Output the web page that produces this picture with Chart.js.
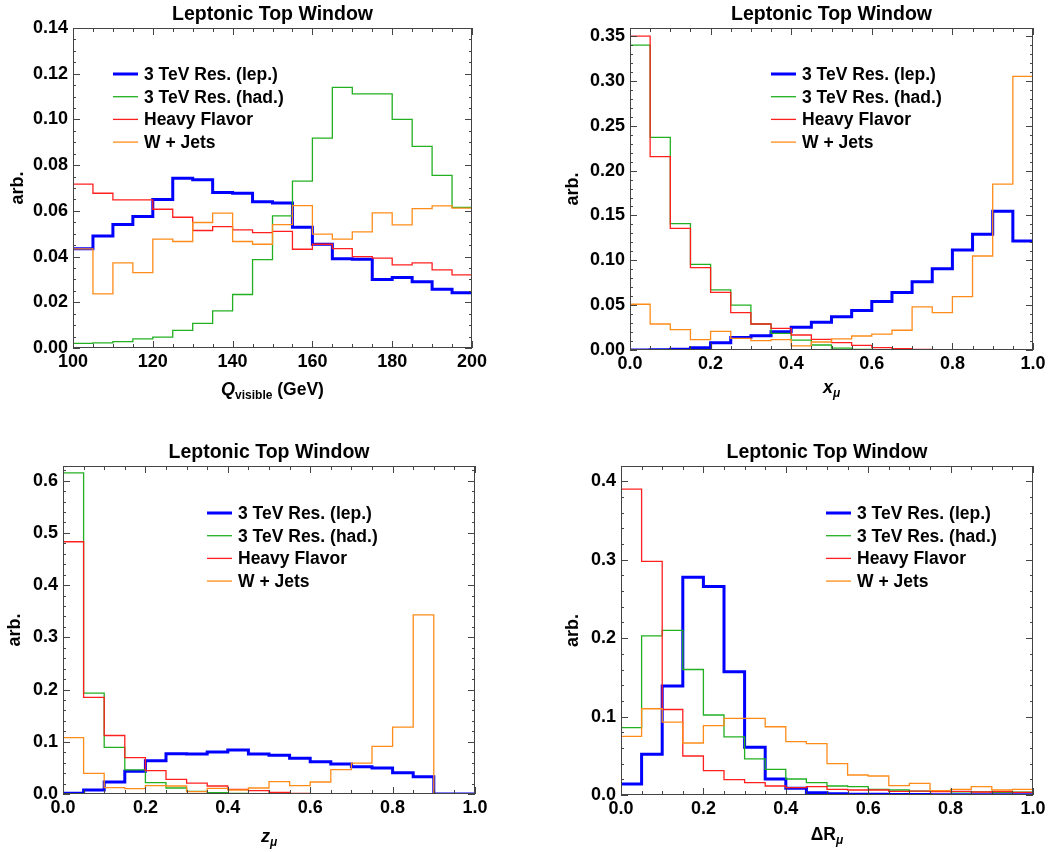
<!DOCTYPE html>
<html>
<head>
<meta charset="utf-8">
<title>Leptonic Top Window</title>
<script src="https://cdn.jsdelivr.net/npm/chart.js@4.4.0/dist/chart.umd.min.js"></script>
<style>
  html, body { margin: 0; padding: 0; background: #fff; }
  #wrap { position: relative; width: 1050px; height: 852px; }
  #wrap canvas { position: absolute; }
</style>
</head>
<body>
<div id="wrap">
  <canvas id="cQ" width="525" height="426" style="left:0;top:0"></canvas>
  <canvas id="cX" width="525" height="426" style="left:525px;top:0"></canvas>
  <canvas id="cZ" width="525" height="426" style="left:0;top:426px"></canvas>
  <canvas id="cR" width="525" height="426" style="left:525px;top:426px"></canvas>
</div>
<script>
// series names (legend order)
var seriesNames = ["3 TeV Res. (lep.)", "3 TeV Res. (had.)", "Heavy Flavor", "W + Jets"];

// bin edges
var qBins = [100, 105, 110, 115, 120, 125, 130, 135, 140, 145, 150, 155, 160, 165, 170, 175, 180, 185, 190, 195, 200];
var unitBins = [0, 0.05, 0.1, 0.15, 0.2, 0.25, 0.3, 0.35, 0.4, 0.45, 0.5, 0.55, 0.6, 0.65, 0.7, 0.75, 0.8, 0.85, 0.9, 0.95, 1.0];

// Q visible
var qLep = [0.0434, 0.049, 0.054, 0.0575, 0.065, 0.0743, 0.0736, 0.068, 0.0677, 0.064, 0.0634, 0.0528, 0.0454, 0.039, 0.0388, 0.030, 0.0308, 0.029, 0.0257, 0.0242];
var qHad = [0.002, 0.0022, 0.0028, 0.004, 0.0048, 0.0077, 0.0108, 0.0162, 0.0234, 0.0387, 0.0578, 0.073, 0.0918, 0.114, 0.1112, 0.1112, 0.100, 0.0882, 0.0755, 0.0615];
var qHF  = [0.0717, 0.0677, 0.0648, 0.0648, 0.0607, 0.0572, 0.0514, 0.0531, 0.0517, 0.0505, 0.051, 0.0432, 0.0454, 0.0435, 0.040, 0.0393, 0.0364, 0.0372, 0.0342, 0.032];
var qWJ  = [0.0434, 0.0237, 0.0372, 0.033, 0.0476, 0.0466, 0.0549, 0.059, 0.0466, 0.0454, 0.054, 0.0623, 0.0498, 0.0476, 0.0508, 0.0591, 0.0539, 0.061, 0.0622, 0.0612];

// x_mu
var xLep = [0, 0.0003, 0.0008, 0.0026, 0.0082, 0.014, 0.016, 0.0204, 0.0253, 0.031, 0.037, 0.0439, 0.054, 0.064, 0.0762, 0.0907, 0.1115, 0.129, 0.1546, 0.1216];
var xHad = [0.340, 0.237, 0.141, 0.0955, 0.067, 0.050, 0.029, 0.0186, 0.011, 0.0056, 0.002, 0.0007, 0.0003, 0.0002, 0.0001, 0, 0, 0, 0, 0];
var xHF  = [0.350, 0.2156, 0.1357, 0.0918, 0.0643, 0.0416, 0.029, 0.0242, 0.0167, 0.0119, 0.0082, 0.0052, 0.0026, 0.0015, 0.0008, 0.0005, 0.0003, 0.0002, 0.0001, 0.0001];
var xWJ  = [0.051, 0.029, 0.0227, 0.0115, 0.0208, 0.013, 0.0104, 0.0115, 0.0045, 0.0089, 0.0123, 0.0156, 0.0178, 0.022, 0.048, 0.0416, 0.0595, 0.1048, 0.185, 0.305];

// z_mu
var zLep = [0.0013, 0.0077, 0.023, 0.0434, 0.0638, 0.0772, 0.0766, 0.0804, 0.0842, 0.0766, 0.074, 0.0683, 0.0619, 0.0574, 0.0523, 0.0498, 0.0408, 0.0332, 0, 0];
var zHad = [0.615, 0.193, 0.0893, 0.046, 0.0217, 0.0115, 0.005, 0.0026, 0.0013, 0.0005, 0.0002, 0, 0, 0, 0, 0, 0, 0, 0, 0];
var zHF  = [0.483, 0.185, 0.112, 0.0696, 0.0447, 0.028, 0.021, 0.0153, 0.0089, 0.0064, 0.0032, 0.0013, 0.0005, 0.0003, 0.0002, 0.0001, 0, 0, 0, 0];
var zWJ  = [0.108, 0.0396, 0.0121, 0.0102, 0.016, 0.0153, 0.0045, 0.0108, 0.0077, 0.0115, 0.0236, 0.016, 0.023, 0.0466, 0.0593, 0.0913, 0.128, 0.343, 0, 0];

// Delta R_mu
var rLep = [0.014, 0.052, 0.139, 0.2776, 0.2657, 0.157, 0.061, 0.0204, 0.0085, 0.003, 0.0017, 0.001, 0.0008, 0.0006, 0.0005, 0.0004, 0.0003, 0.0003, 0.0002, 0.0002];
var rHad = [0.0859, 0.203, 0.210, 0.160, 0.102, 0.074, 0.046, 0.0327, 0.0204, 0.0157, 0.0115, 0.0106, 0.0072, 0.0064, 0.005, 0.005, 0.004, 0.004, 0.0035, 0.0035];
var rHF  = [0.390, 0.298, 0.109, 0.0497, 0.031, 0.0196, 0.0157, 0.0115, 0.0094, 0.0106, 0.0072, 0.0064, 0.0064, 0.0047, 0.005, 0.0043, 0.0047, 0.0038, 0.0043, 0.0034];
var rWJ  = [0.0748, 0.110, 0.093, 0.0663, 0.0884, 0.0978, 0.0978, 0.087, 0.068, 0.0655, 0.040, 0.0255, 0.0242, 0.012, 0.0149, 0.0055, 0.0072, 0.0106, 0.0064, 0.0072];

// tick labels
var qXTicks = [100, 120, 140, 160, 180, 200];
var unitXTicks = [0, 0.2, 0.4, 0.6, 0.8, 1.0];
var qYTicks = [0, 0.02, 0.04, 0.06, 0.08, 0.10, 0.12, 0.14];
var xYTicks = [0, 0.05, 0.10, 0.15, 0.20, 0.25, 0.30, 0.35];
var zYTicks = [0, 0.1, 0.2, 0.3, 0.4, 0.5, 0.6];
var rYTicks = [0, 0.1, 0.2, 0.3, 0.4];

var colors = ['#0000ff', '#22b022', '#ff1f1f', '#ff8c1a'];
var widths = [3, 1.3, 1.3, 1.3];
var FONT = '"Liberation Sans", Arial, Helvetica, sans-serif';

function steps(edges, vals) {
  var pts = vals.map(function (v, i) { return { x: edges[i], y: v }; });
  pts.push({ x: edges[edges.length - 1], y: vals[vals.length - 1] });
  return pts;
}

function drawRich(c, parts, cx, base) {
  var w = 0;
  parts.forEach(function (p) { c.font = p.f; w += c.measureText(p.t).width; });
  var x = cx - w / 2;
  c.textAlign = 'left';
  c.textBaseline = 'alphabetic';
  parts.forEach(function (p) {
    c.font = p.f;
    c.fillText(p.t, x, base + (p.dy || 0));
    x += c.measureText(p.t).width;
  });
}

// frame, inward ticks, titles and legend
var decor = {
  id: 'decor',
  afterDraw: function (chart, args, o) {
    var c = chart.ctx, a = chart.chartArea;
    var sx = chart.scales.x, sy = chart.scales.y;
    c.save();
    c.strokeStyle = '#444';
    c.lineWidth = 1;

    function xTick(v, len) {
      var px = Math.round(sx.getPixelForValue(v)) + 0.5;
      c.beginPath();
      c.moveTo(px, a.bottom); c.lineTo(px, a.bottom - len);
      c.moveTo(px, a.top); c.lineTo(px, a.top + len);
      c.stroke();
    }
    function yTick(v, len) {
      var py = Math.round(sy.getPixelForValue(v)) + 0.5;
      c.beginPath();
      c.moveTo(a.left, py); c.lineTo(a.left + len, py);
      c.moveTo(a.right, py); c.lineTo(a.right - len, py);
      c.stroke();
    }
    var n = Math.round((sx.max - sx.min) / o.xMinor);
    for (var k = 0; k <= n; k++) xTick(sx.min + k * o.xMinor, 4);
    n = Math.round((sy.max - sy.min) / o.yMinor);
    for (k = 0; k <= n; k++) {
      var v = sy.min + k * o.yMinor;
      if (v <= sy.max + 1e-9) yTick(v, 3);
    }
    o.xTicks.forEach(function (v) { xTick(v, 7); });
    o.yTicks.forEach(function (v) { yTick(v, 7); });

    c.strokeRect(a.left + 0.5, a.top + 0.5, a.right - a.left - 1, a.bottom - a.top - 1);

    c.fillStyle = '#000';
    // panel title
    c.font = 'bold 19.5px ' + FONT;
    c.textAlign = 'center';
    c.textBaseline = 'alphabetic';
    c.fillText('Leptonic Top Window', (a.left + a.right) / 2, a.top - 8);

    // y title
    c.save();
    c.translate(a.left + o.yTitleDx, (a.top + a.bottom) / 2);
    c.rotate(-Math.PI / 2);
    c.font = 'bold 18px ' + FONT;
    c.textBaseline = 'middle';
    c.fillText('arb.', 0, 0);
    c.restore();

    // x title
    drawRich(c, o.xTitle, (a.left + a.right) / 2, o.xTitleBase);

    // legend
    var lx = a.left + o.legend.dx, ly = a.top + o.legend.dy;
    chart.data.datasets.forEach(function (ds, i) {
      var yy = ly + i * 22.7;
      c.strokeStyle = ds.borderColor;
      c.lineWidth = ds.borderWidth;
      c.beginPath();
      c.moveTo(lx, yy); c.lineTo(lx + 25, yy);
      c.stroke();
      c.fillStyle = '#000';
      c.font = 'bold 17.5px ' + FONT;
      c.textAlign = 'left';
      c.textBaseline = 'middle';
      c.fillText(ds.label, lx + 31, yy + 1);
    });
    c.restore();
  }
};

function histPanel(id, p) {
  var datasets = p.series.map(function (vals, i) {
    return {
      label: seriesNames[i],
      data: steps(p.bins, vals),
      borderColor: colors[i],
      borderWidth: widths[i],
      stepped: true,
      pointRadius: 0,
      fill: false,
      order: 4 - i
    };
  });
  var tickFont = { family: FONT, size: 18, weight: 'bold' };
  return new Chart(document.getElementById(id).getContext('2d'), {
    type: 'line',
    data: { datasets: datasets },
    options: {
      responsive: false,
      animation: false,
      layout: { padding: p.pad },
      plugins: {
        legend: { display: false },
        tooltip: { enabled: false },
        decor: {
          xTicks: p.xTicks, yTicks: p.yTicks, xMinor: p.xMinor, yMinor: p.yMinor,
          legend: p.legend, yTitleDx: p.yTitleDx, xTitle: p.xTitle, xTitleBase: p.xTitleBase
        }
      },
      scales: {
        x: {
          type: 'linear',
          min: p.bins[0],
          max: p.bins[p.bins.length - 1],
          grid: { display: false, drawTicks: false },
          border: { display: false },
          afterBuildTicks: function (s) { s.ticks = p.xTicks.map(function (v) { return { value: v }; }); },
          afterFit: function (s) { s.height = p.xAxisH; },
          ticks: {
            font: tickFont, color: '#000', padding: 3, maxRotation: 0, autoSkip: false,
            callback: function (v) { return Number(v).toFixed(p.xDec); }
          }
        },
        y: {
          type: 'linear',
          min: 0,
          max: p.yMax,
          grid: { display: false, drawTicks: false },
          border: { display: false },
          afterBuildTicks: function (s) { s.ticks = p.yTicks.map(function (v) { return { value: v }; }); },
          afterFit: function (s) { s.width = p.yAxisW; },
          ticks: {
            font: tickFont, color: '#000', padding: 5, autoSkip: false,
            callback: function (v) { return Number(v).toFixed(p.yDec); }
          }
        }
      }
    },
    plugins: [decor]
  });
}

var ib18 = 'italic bold 18px ' + FONT;
var b17 = 'bold 17.5px ' + FONT;
var sub = 'bold 12px ' + FONT;
var isub = 'italic bold 12px ' + FONT;

histPanel('cQ', {
  bins: qBins, series: [qLep, qHad, qHF, qWJ],
  yMax: 0.14, yTicks: qYTicks, yDec: 2, xTicks: qXTicks, xDec: 0,
  yMinor: 0.005, xMinor: 5,
  pad: { top: 28, right: 53, left: 0, bottom: 0 }, yAxisW: 73, xAxisH: 78,
  legend: { dx: 40, dy: 46 }, yTitleDx: -55, xTitleBase: 395,
  xTitle: [{ t: 'Q', f: ib18 }, { t: 'visible', f: sub, dy: 4 }, { t: ' (GeV)', f: b17 }]
});

histPanel('cX', {
  bins: unitBins, series: [xLep, xHad, xHF, xWJ],
  yMax: 0.359, yTicks: xYTicks, yDec: 2, xTicks: unitXTicks, xDec: 1,
  yMinor: 0.01, xMinor: 0.05,
  pad: { top: 28, right: 17, left: 0, bottom: 0 }, yAxisW: 105, xAxisH: 76,
  legend: { dx: 141, dy: 46 }, yTitleDx: -57, xTitleBase: 393,
  xTitle: [{ t: 'x', f: ib18 }, { t: 'μ', f: isub, dy: 4 }]
});

histPanel('cZ', {
  bins: unitBins, series: [zLep, zHad, zHF, zWJ],
  yMax: 0.628, yTicks: zYTicks, yDec: 1, xTicks: unitXTicks, xDec: 1,
  yMinor: 0.02, xMinor: 0.05,
  pad: { top: 40, right: 50, left: 0, bottom: 0 }, yAxisW: 63, xAxisH: 58,
  legend: { dx: 144, dy: 47 }, yTitleDx: -48, xTitleBase: 416,
  xTitle: [{ t: 'z', f: ib18 }, { t: 'μ', f: isub, dy: 4 }]
});

histPanel('cR', {
  bins: unitBins, series: [rLep, rHad, rHF, rWJ],
  yMax: 0.4195, yTicks: rYTicks, yDec: 1, xTicks: unitXTicks, xDec: 1,
  yMinor: 0.02, xMinor: 0.05,
  pad: { top: 40, right: 17, left: 0, bottom: 0 }, yAxisW: 96, xAxisH: 57,
  legend: { dx: 205, dy: 47 }, yTitleDx: -48, xTitleBase: 414,
  xTitle: [{ t: 'ΔR', f: b17 }, { t: 'μ', f: isub, dy: 4 }]
});
</script>
</body>
</html>
